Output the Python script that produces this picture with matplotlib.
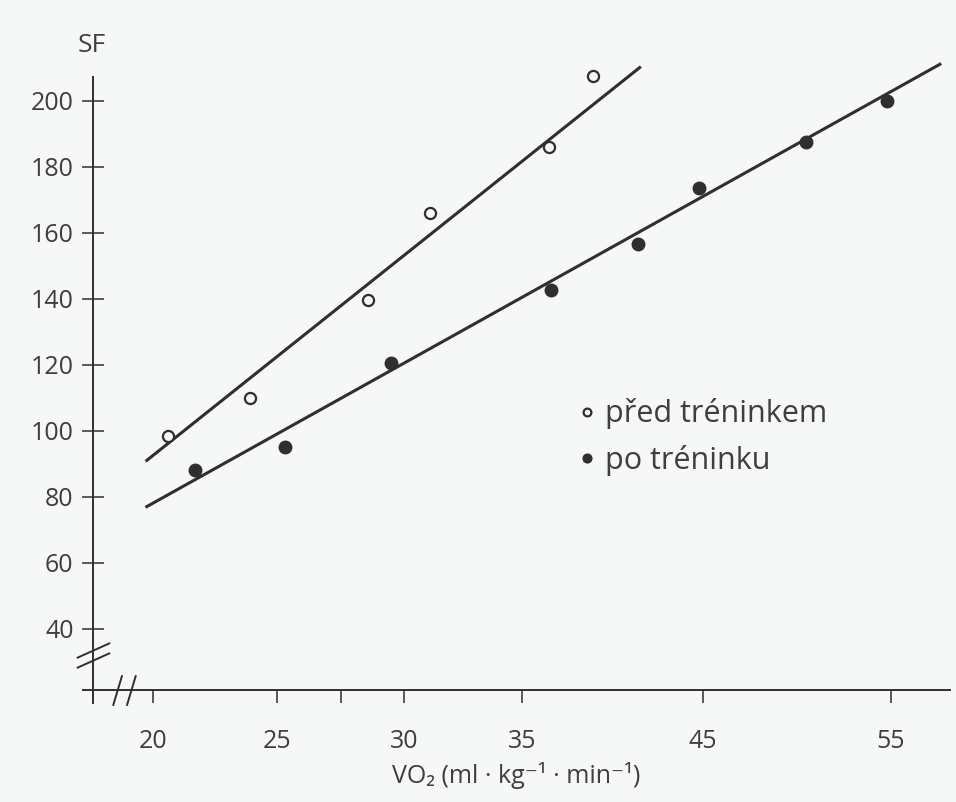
import numpy as np
import matplotlib.pyplot as plt
from matplotlib.path import Path

plt.rcParams['font.family'] = ['Open Sans', 'DejaVu Sans']

# Tepová frekvence (SF) v závislosti na spotřebě kyslíku (VO2)
pred_vo2 = [20.6, 23.9, 28.6, 31.1, 36.5, 38.9]
pred_sf = [98.5, 110, 139.5, 166, 186, 207.5]
po_vo2 = [21.7, 25.3, 29.5, 36.6, 41.4, 44.8, 50.5, 54.8]
po_sf = [88, 95, 120.5, 142.5, 156.5, 173.5, 187.5, 200]

# proložené přímky (koncové body)
pred_fit_vo2 = [19.75, 41.5]
pred_fit_sf = [91, 210]
po_fit_vo2 = [19.75, 57.6]
po_fit_sf = [77, 211]

x_ticks = [20, 25, 30, 35, 45, 55]
y_ticks = [40, 60, 80, 100, 120, 140, 160, 180, 200]

# osa x v původním grafu není lineární -> po částech lineární měřítko
knot_vals = np.array([10, 20, 25, 30, 35, 45, 55, 65])
knot_pos = np.array([-95, 153, 277, 404, 522, 703, 891, 1079])

def fwd(v):
    return np.interp(v, knot_vals, knot_pos)

def inv(p):
    return np.interp(p, knot_pos, knot_vals)

ink = '#2f2f2f'
txt = '#3e3e3e'
bg = '#f6f7f7'

fig = plt.figure(figsize=(9.56, 8.02), dpi=100, facecolor=bg)
ax = fig.add_axes([83 / 956, 1 - 703 / 802, 867 / 956, 643 / 802], facecolor=bg)
ax.set_xscale('function', functions=(fwd, inv))
ax.set_xlim(inv(83), inv(950))
ax.set_ylim(17.5, 212.3)

x_axis_y = 21.4
y_axis_x = inv(93)

for s in ['top', 'right']:
    ax.spines[s].set_visible(False)
ax.spines['left'].set_position(('data', y_axis_x))
ax.spines['left'].set_bounds(17.5, 207.2)
ax.spines['bottom'].set_position(('data', x_axis_y))
for s in ['left', 'bottom']:
    ax.spines[s].set_color(ink)
    ax.spines[s].set_linewidth(1.4)

ax.set_xticks(x_ticks)
ax.set_xticks([27.5], minor=True)
ax.set_yticks(y_ticks)
ax.tick_params(axis='y', direction='inout', length=16, width=1.1, color=ink,
               labelsize=18, labelcolor=txt, pad=6)
ax.tick_params(axis='x', which='both', direction='out', length=9, width=1.1,
               color=ink, labelsize=18, labelcolor=txt, pad=19)

ax.plot(pred_fit_vo2, pred_fit_sf, color=ink, lw=2.2, clip_on=False)
ax.plot(po_fit_vo2, po_fit_sf, color=ink, lw=2.2, clip_on=False)
ax.plot(pred_vo2, pred_sf, 'o', ms=8, mfc=bg, mec=ink, mew=1.6,
        clip_on=False, zorder=3, label='před tréninkem')
ax.plot(po_vo2, po_sf, 'o', ms=9, mfc=ink, mec=ink,
        clip_on=False, zorder=3, label='po tréninku')

# značky přerušení os
brk = Path([(-1, -0.75), (1, 0.15), (-1, -0.15), (1, 0.75)],
           [Path.MOVETO, Path.LINETO, Path.MOVETO, Path.LINETO])
ax.plot([y_axis_x], [32], marker=brk, ms=24, mec=ink, mew=1.4, ls='none', clip_on=False)
brk_x = Path([(-0.75, -1), (-0.15, 1), (0.15, -1), (0.75, 1)],
             [Path.MOVETO, Path.LINETO, Path.MOVETO, Path.LINETO])
ax.plot([18.85], [x_axis_y], marker=brk_x, ms=22, mec=ink, mew=1.4, ls='none', clip_on=False)

ax.set_xlabel('VO₂ (ml · kg⁻¹ · min⁻¹)', fontsize=18, color=txt, labelpad=6)
fig.text(92 / 956, 1 - 45 / 802, 'SF', fontsize=19, color=txt, ha='center', va='center')

leg = ax.legend(loc='upper left', bbox_to_anchor=(564 / 956, 1 - 383 / 802),
                bbox_transform=fig.transFigure, frameon=False, fontsize=22,
                handlelength=0.5, handletextpad=0.34, labelspacing=0.5,
                borderpad=0, markerscale=0.7)
for t in leg.get_texts():
    t.set_color(txt)

fig.savefig('out.png', dpi=100, facecolor=bg)
